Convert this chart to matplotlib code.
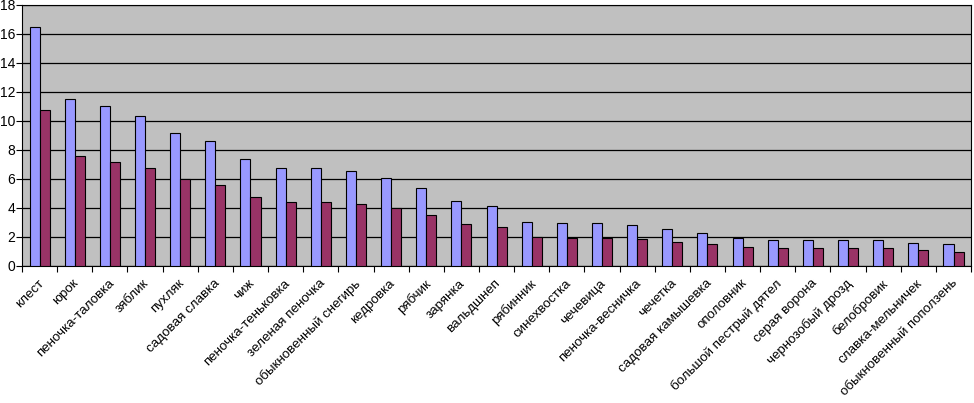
import numpy as np
import matplotlib.pyplot as plt
import matplotlib.transforms as mtransforms

# DATA

species = ['клест', 'юрок', 'пеночка-таловка', 'зяблик', 'пухляк', 'садовая славка',
           'чиж', 'пеночка-теньковка', 'зеленая пеночка', 'обыкновенный снегирь',
           'кедровка', 'рябчик', 'зарянка', 'вальдшнеп', 'рябинник', 'синехвостка',
           'чечевица', 'пеночка-весничка', 'чечетка', 'садовая камышевка', 'ополовник',
           'большой пестрый дятел', 'серая ворона', 'чернозобый дрозд', 'белобровик',
           'славка-мельничек', 'обыкновенный поползень']

series_1 = [16.45, 11.5, 11.05, 10.35, 9.15, 8.6, 7.35, 6.75, 6.75, 6.55,
            6.05, 5.35, 4.45, 4.15, 3.0, 2.95, 2.95, 2.8, 2.55, 2.3, 1.9,
            1.8, 1.8, 1.8, 1.8, 1.6, 1.55]

series_2 = [10.75, 7.6, 7.2, 6.75, 6.0, 5.6, 4.75, 4.4, 4.4, 4.3,
            4.0, 3.5, 2.9, 2.7, 2.0, 1.95, 1.95, 1.85, 1.65, 1.55, 1.3,
            1.25, 1.25, 1.25, 1.25, 1.1, 0.97]

# PLOT

plt.rcParams['font.family'] = ['Liberation Sans', 'DejaVu Sans']

fig = plt.figure(figsize=(9.74, 4.03), dpi=100)
ax = fig.add_axes([0.0226, 0.34, 0.9744, 0.6476])

x = np.arange(len(species))
w = 0.285

ax.set_facecolor('#C0C0C0')
ax.bar(x - w/2, series_1, width=w, color='#9999FF', edgecolor='black', linewidth=0.8, zorder=3)
ax.bar(x + w/2, series_2, width=w, color='#993366', edgecolor='black', linewidth=0.8, zorder=3)

ax.set_ylim(0, 18)
ax.set_yticks(np.arange(0, 19, 2))
ax.yaxis.grid(True, color='black', linewidth=0.9, zorder=0)
ax.set_xlim(-0.5, len(species) - 0.5)

# ticks between categories, labels at centres
ax.set_xticks(np.arange(-0.5, len(species), 1))
ax.set_xticklabels([])
ax.set_xticks(x, minor=True)
ax.set_xticklabels(species, minor=True, rotation=45, ha='right', va='top',
                   rotation_mode='anchor', fontsize=9.6)
ax.tick_params(axis='x', which='minor', length=0, pad=6)
ax.tick_params(axis='x', which='major', length=4, direction='out')
ax.tick_params(axis='y', labelsize=10, length=4, pad=1)

shift = mtransforms.ScaledTranslation(-0.02, -0.03, fig.dpi_scale_trans)
for lab in ax.get_xticklabels(minor=True):
    lab.set_transform(lab.get_transform() + shift)

for s in ax.spines.values():
    s.set_color('black')
    s.set_linewidth(0.8)

plt.savefig('out.png', dpi=100)
